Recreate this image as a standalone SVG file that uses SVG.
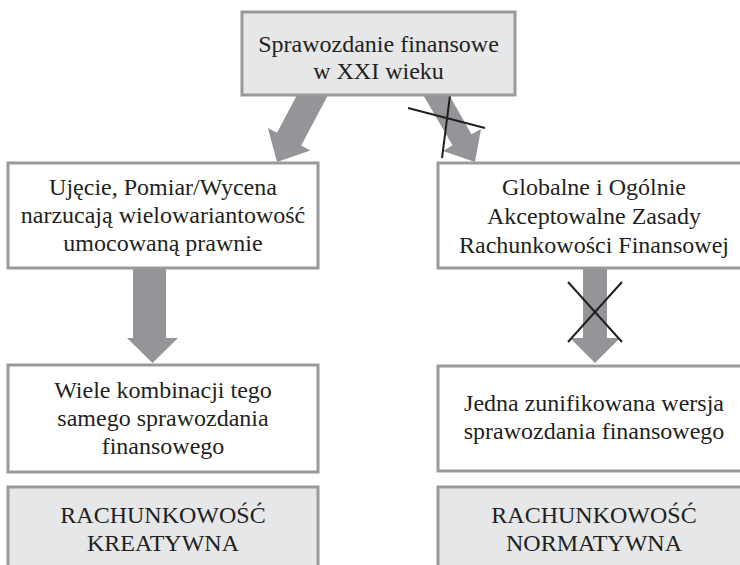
<svg xmlns="http://www.w3.org/2000/svg" width="740" height="565" viewBox="0 0 740 565">
<style>
  .box{fill:#ffffff;stroke:#9a9a9a;stroke-width:3}
  .gbox{fill:#e6e7e8;stroke:#9a9a9a;stroke-width:3}
  .t{font-family:"Liberation Serif","Times New Roman",serif;font-size:24px;fill:#231f20;text-anchor:middle}
  .arrow{fill:#939598;stroke:none}
  .cross{stroke:#231f20;stroke-width:2;fill:none}
</style>
<rect width="740" height="565" fill="#ffffff"/>
<g id="connectors">
  <polygon class="arrow" points="297,95 328,95 301.2,145.6 310.3,150.4 277,162 267.9,128 277,132.8"/>
  <polygon class="arrow" points="422,93 448,93 471.5,134.3 481,129 475,162 443,151 452.5,145.3"/>
  <polygon class="arrow" points="133,268 166,268 166,338 178,338 152.5,363 127,338 133,338"/>
  <polygon class="arrow" points="583,268 607,268 607,338 620,338 595,363 570,338 583,338"/>
  <line class="cross" x1="452" y1="80" x2="442" y2="158"/>
  <line class="cross" x1="408" y1="108" x2="485" y2="128"/>
  <line class="cross" x1="568" y1="282" x2="622" y2="342"/>
  <line class="cross" x1="622" y1="282" x2="568" y2="342"/>
</g>
<g id="top">
  <rect class="gbox" x="242" y="12" width="273" height="83"/>
  <text class="t" x="378.5" y="52">Sprawozdanie finansowe</text>
  <text class="t" x="378.5" y="79">w XXI wieku</text>
</g>
<g id="left-mid">
  <rect class="box" x="8" y="163" width="310" height="105"/>
  <text class="t" x="163" y="195">Ujęcie, Pomiar/Wycena</text>
  <text class="t" x="163" y="223">narzucają wielowariantowość</text>
  <text class="t" x="163" y="251">umocowaną prawnie</text>
</g>
<g id="right-mid">
  <rect class="box" x="438" y="163" width="320" height="105"/>
  <text class="t" x="594" y="195">Globalne i Ogólnie</text>
  <text class="t" x="594" y="224">Akceptowalne Zasady</text>
  <text class="t" x="594" y="253">Rachunkowości Finansowej</text>
</g>
<g id="left-bottom">
  <rect class="box" x="8" y="365" width="310" height="107"/>
  <text class="t" x="163" y="398">Wiele kombinacji tego</text>
  <text class="t" x="163" y="426">samego sprawozdania</text>
  <text class="t" x="163" y="454">finansowego</text>
</g>
<g id="right-bottom">
  <rect class="box" x="438" y="366" width="320" height="105"/>
  <text class="t" x="594" y="411">Jedna zunifikowana wersja</text>
  <text class="t" x="594" y="439">sprawozdania finansowego</text>
</g>
<g id="left-label">
  <rect class="gbox" x="8" y="487" width="310" height="100"/>
  <text class="t" x="163" y="523">RACHUNKOWOŚĆ</text>
  <text class="t" x="163" y="551">KREATYWNA</text>
</g>
<g id="right-label">
  <rect class="gbox" x="438" y="487" width="320" height="100"/>
  <text class="t" x="594" y="523">RACHUNKOWOŚĆ</text>
  <text class="t" x="594" y="551">NORMATYWNA</text>
</g>
</svg>
